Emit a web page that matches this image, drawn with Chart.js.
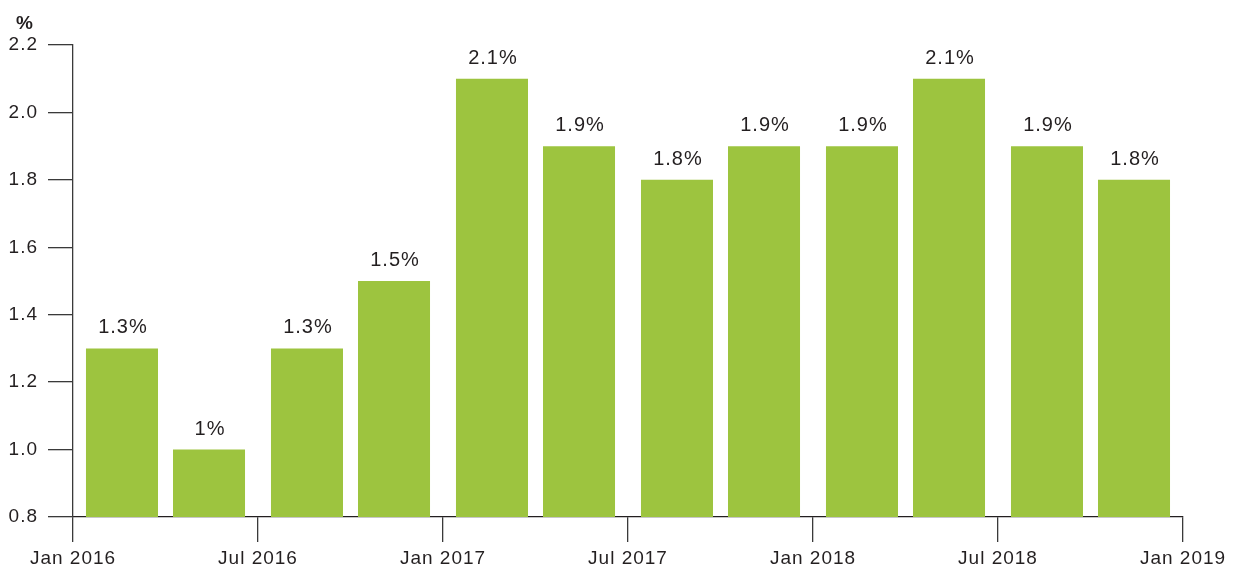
<!DOCTYPE html>
<html>
<head>
<meta charset="utf-8">
<script src="https://cdn.jsdelivr.net/npm/chart.js@4/dist/chart.umd.min.js"></script>
<style>
  html, body { margin: 0; padding: 0; background: #fff; }
  #wrap { width: 1236px; height: 569px; }
</style>
</head>
<body>
<div id="wrap"><canvas id="growthChart" width="1236" height="569"></canvas></div>
<script>
// quarterly growth, two bars per half-year
const quarters = [
  "Q1 2016", "Q2 2016", "Q3 2016", "Q4 2016",
  "Q1 2017", "Q2 2017", "Q3 2017", "Q4 2017",
  "Q1 2018", "Q2 2018", "Q3 2018", "Q4 2018",
];
const values = [1.3, 1.0, 1.3, 1.5, 2.1, 1.9, 1.8, 1.9, 1.9, 2.1, 1.9, 1.8];
const halfYears = ["H1 2016", "H2 2016", "H1 2017", "H2 2017", "H1 2018", "H2 2018"];
const tickLabels = ["Jan 2016", "Jul 2016", "Jan 2017", "Jul 2017", "Jan 2018", "Jul 2018", "Jan 2019"];
const yTicks = [0.8, 1.0, 1.2, 1.4, 1.6, 1.8, 2.0, 2.2];

const GREEN = "#9dc43f";
const INK = "#231f20";
const AXIS = "#3a3a3a";
const FONT = "'Liberation Sans', Arial, Helvetica, sans-serif";

// first and second quarter of every half-year
const firstQ = values.filter((v, i) => i % 2 === 0);
const secondQ = values.filter((v, i) => i % 2 === 1);

const pct = (v) => `${Number(v.toFixed(1))}%`;

const spacing = {
  id: "spacing",
  beforeDraw(chart) {
    chart.ctx.letterSpacing = "1px";
  },
};

const barLabels = {
  id: "barLabels",
  afterDatasetsDraw(chart) {
    const ctx = chart.ctx;
    ctx.save();
    ctx.letterSpacing = "1px";
    ctx.font = `20px ${FONT}`;
    ctx.fillStyle = INK;
    ctx.textAlign = "center";
    ctx.textBaseline = "alphabetic";
    chart.data.datasets.forEach((ds, di) => {
      chart.getDatasetMeta(di).data.forEach((bar, i) => {
        ctx.fillText(pct(ds.data[i]), bar.x + 1, bar.y - 15);
      });
    });
    // unit above the value axis
    ctx.font = `bold 19px ${FONT}`;
    ctx.fillText("%", chart.scales.y.left + 25, chart.chartArea.top - 16);
    ctx.restore();
  },
};

const ctx = document.getElementById("growthChart").getContext("2d");
new Chart(ctx, {
  type: "bar",
  data: {
    labels: halfYears,
    datasets: [
      { label: "first quarter", data: firstQ, backgroundColor: GREEN, borderWidth: 0 },
      { label: "second quarter", data: secondQ, backgroundColor: GREEN, borderWidth: 0 },
    ],
  },
  options: {
    responsive: false,
    animation: false,
    categoryPercentage: 0.9408,
    barPercentage: 0.8276,
    layout: { padding: { top: 45, right: 53, left: 0, bottom: 0 } },
    plugins: {
      legend: { display: false },
      tooltip: { enabled: false },
      title: { display: false },
    },
    scales: {
      x: {
        display: false,
        offset: true,
      },
      xt: {
        type: "linear",
        position: "bottom",
        min: 0,
        max: 6,
        offset: false,
        afterFit: (scale) => { scale.height = 52; },
        afterBuildTicks: (scale) => {
          scale.ticks = tickLabels.map((t, i) => ({ value: i }));
        },
        ticks: {
          autoSkip: false,
          maxRotation: 0,
          padding: 5,
          color: INK,
          font: { family: FONT, size: 19 },
          callback: (v) => tickLabels[v],
        },
        grid: {
          offset: false,
          drawOnChartArea: false,
          drawTicks: true,
          tickLength: 25,
          color: AXIS,
          lineWidth: 1.3,
        },
        border: { display: true, color: INK, width: 1.3 },
      },
      y: {
        min: 0.8,
        max: 2.2,
        afterFit: (scale) => { scale.width = 73; },
        afterBuildTicks: (scale) => {
          scale.ticks = yTicks.map((v) => ({ value: v }));
        },
        ticks: {
          padding: 10,
          color: INK,
          font: { family: FONT, size: 19 },
          callback: (v) => v.toFixed(1),
        },
        grid: {
          drawOnChartArea: false,
          drawTicks: true,
          tickLength: 25,
          color: AXIS,
          lineWidth: 1.3,
        },
        border: { display: true, color: AXIS, width: 1.3 },
      },
    },
  },
  plugins: [spacing, barLabels],
});
</script>
</body>
</html>
